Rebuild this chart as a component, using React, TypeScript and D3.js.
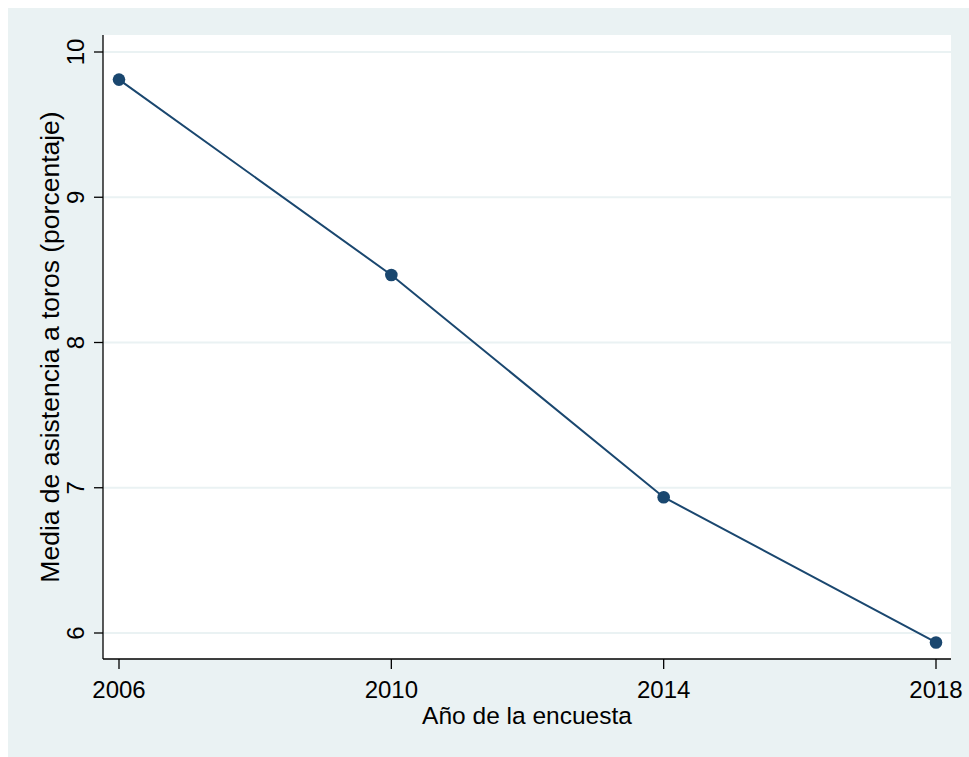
import React from "react";
import * as d3 from "d3";

const years = [2006, 2010, 2014, 2018];
const values = [9.81, 8.465, 6.935, 5.935];
const yTicks = [6, 7, 8, 9, 10];
const xTicks = [2006, 2010, 2014, 2018];
const xTitle = "Año de la encuesta";
const yTitle = "Media de asistencia a toros (porcentaje)";

export default function App() {
  const W = 969, H = 757;
  const plotLeft = 103, plotRight = 951, plotTop = 35, plotBottom = 659;
  const x = d3.scaleLinear().domain([2006, 2018]).range([119, 936]);
  const y = d3.scaleLinear().domain([6, 10]).range([633, 52]);
  const navy = "#1a476f";
  const bg = "#eaf2f3";
  const font = "'Liberation Sans', Arial, Helvetica, sans-serif";
  const line = d3.line<number>().x((_, i) => x(years[i])).y((d) => y(d));
  return (
    <svg width={W} height={H} style={{ position: "absolute", left: 0, top: 0, display: "block" }} fontFamily={font}>
      <rect x={0} y={0} width={W} height={H} fill="#ffffff" />
      <rect x={8} y={8} width={W - 8} height={H - 8} fill={bg} />
      <rect x={plotLeft} y={plotTop} width={plotRight - plotLeft} height={plotBottom - plotTop} fill="#ffffff" />
      {yTicks.map((t) => (
        <line key={"g" + t} x1={plotLeft} x2={plotRight} y1={y(t)} y2={y(t)} stroke={bg} strokeWidth={2} />
      ))}
      <line x1={plotLeft} x2={plotLeft} y1={plotTop} y2={plotBottom} stroke="#000" strokeWidth={1.3} />
      <line x1={plotLeft} x2={plotRight} y1={plotBottom} y2={plotBottom} stroke="#000" strokeWidth={1.3} />
      {yTicks.map((t) => (
        <g key={"yt" + t}>
          <line x1={plotLeft - 9} x2={plotLeft} y1={y(t)} y2={y(t)} stroke="#000" strokeWidth={1.3} />
          <text
            transform={`translate(84,${y(t)}) rotate(-90)`}
            textAnchor="middle"
            fontSize={24}
            fill="#000"
          >
            {t}
          </text>
        </g>
      ))}
      {xTicks.map((t) => (
        <g key={"xt" + t}>
          <line x1={x(t)} x2={x(t)} y1={plotBottom} y2={plotBottom + 10} stroke="#000" strokeWidth={1.3} />
          <text x={x(t)} y={698} textAnchor="middle" fontSize={24} fill="#000">
            {t}
          </text>
        </g>
      ))}
      <text x={(plotLeft + plotRight) / 2} y={724} textAnchor="middle" fontSize={24.5} fill="#000">
        {xTitle}
      </text>
      <text
        transform={`translate(59,${(plotTop + plotBottom) / 2}) rotate(-90)`}
        textAnchor="middle"
        fontSize={26.5}
        fill="#000"
      >
        {yTitle}
      </text>
      <path d={line(values) || ""} fill="none" stroke={navy} strokeWidth={2} />
      {values.map((v, i) => (
        <circle key={"p" + i} cx={x(years[i])} cy={y(v)} r={6.3} fill={navy} />
      ))}
    </svg>
  );
}
